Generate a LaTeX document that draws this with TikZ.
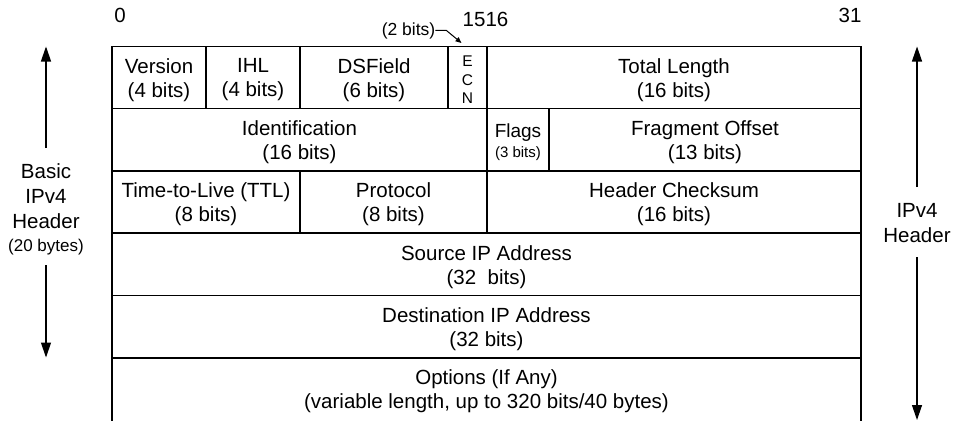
\documentclass[tikz,border=0pt]{standalone}
\usepackage{fontspec}
\setmainfont{Liberation Sans}
\usetikzlibrary{arrows.meta}
\begin{document}
\begin{tikzpicture}[x=1pt,y=-1pt,
  cellbox/.style={draw, line width=1.3pt, inner sep=0pt, outer sep=0pt},
  celltext/.style={inner sep=0pt, align=center, font=\fontsize{20.5}{24}\selectfont},
  lbl/.style={inner sep=0pt, align=center, font=\fontsize{20.5}{25}\selectfont},
  bigarrow/.style={line width=1.2pt, -{Triangle[length=15pt,width=10pt]}},
  smallarrow/.style={line width=1pt, -{Triangle[length=6pt,width=5pt]}},
]
\useasboundingbox (0,0) rectangle (965,420);
\newcommand\cellat[7]{%
  \node[cellbox, minimum width={#4-#2}, minimum height={#5-#3}] (#1) at ({(#2+#4)/2},{(#3+#5)/2}) {};
  \node[celltext, #6] (#1-t) at ([yshift=-2.5pt]#1.center) {#7};}
% row 1
\cellat{ver}{112}{46.5}{206}{108.5}{}{Version\\(4 bits)}
\cellat{ihl}{206}{46.5}{300}{108.5}{}{IHL\\(4 bits)}
\cellat{dsf}{300}{46.5}{448}{108.5}{}{DSField\\(6 bits)}
\cellat{ecn}{448}{46.5}{487}{108.5}{font=\fontsize{15.5}{18.5}\selectfont}{E\\C\\N}
\cellat{tot}{487}{46.5}{861}{108.5}{}{Total Length\\(16 bits)}
% row 2
\cellat{ident}{112}{108.5}{487}{171}{}{Identification\\(16 bits)}
\cellat{flags}{487}{108.5}{549}{171}{font=\fontsize{19}{20}\selectfont}{Flags\\{\fontsize{15}{20}\selectfont(3 bits)}}
\cellat{frag}{549}{108.5}{861}{171}{}{Fragment Offset\\(13 bits)}
% row 3
\cellat{ttl}{112}{171}{300}{233}{}{Time-to-Live (TTL)\\(8 bits)}
\cellat{proto}{300}{171}{487}{233}{}{Protocol\\(8 bits)}
\cellat{chk}{487}{171}{861}{233}{}{Header Checksum\\(16 bits)}
% rows 4-6
\cellat{src}{112}{233}{861}{295.5}{}{Source IP Address\\(32~ bits)}
\cellat{dst}{112}{295.5}{861}{358}{}{Destination IP Address\\(32 bits)}
\node[cellbox, minimum width=749, minimum height=72] (opt) at (486.5,394) {};
\node[celltext] (opt-t) at (486.5,391) {Options (If Any)\\(variable length, up to 320 bits/40 bytes)};
% bit labels
\node[lbl] (b0) at (120,15) {0};
\node[lbl, font=\fontsize{20.5}{24}\selectfont] (b1516) at (485.5,19) {1516};
\node[lbl, font=\fontsize{20.5}{24}\selectfont] (b31) at (850,15) {31};
\node[lbl, font=\fontsize{17.5}{20}\selectfont] (twobits) at (408.5,30.5) {(2 bits)};
\coordinate (ecntip) at (461.5,43);
\draw[smallarrow] (twobits.east) -- ++(11,0) -- (ecntip);
% left label
\node[lbl] (basic) at (46,209) {Basic\\IPv4\\Header\\[-2pt]{\fontsize{17}{20}\selectfont(20 bytes)}};
\coordinate (lup) at (46,148);
\coordinate (ltop) at (46,46.5);
\coordinate (ldn) at (46,265);
\coordinate (lbot) at (46,357.5);
\draw[bigarrow] (lup) -- (ltop);
\draw[bigarrow] (ldn) -- (lbot);
% right label
\node[lbl] (ipv4) at (917,223) {IPv4\\Header};
\coordinate (rup) at (917,187);
\coordinate (rtop) at (917,46.5);
\coordinate (rdn) at (917,257);
\coordinate (rbot) at (917,420);
\draw[bigarrow] (rup) -- (rtop);
\draw[bigarrow] (rdn) -- (rbot);
\end{tikzpicture}
\end{document}
